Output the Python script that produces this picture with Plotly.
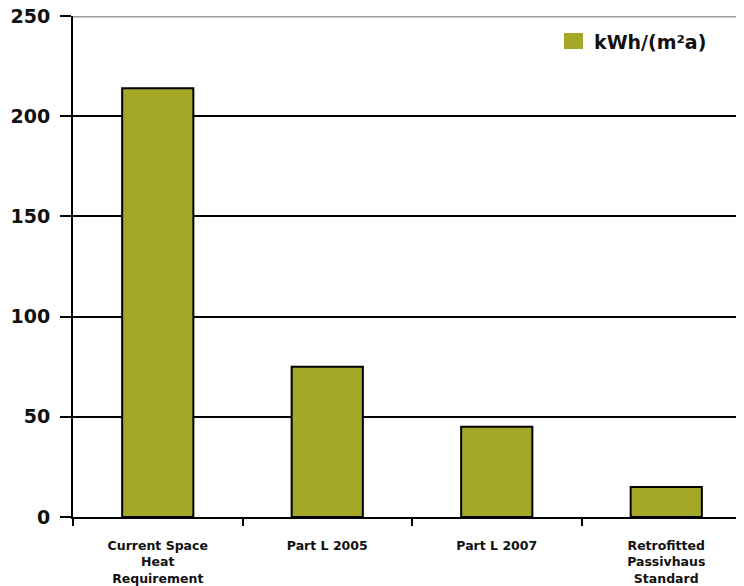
import plotly.graph_objects as go

categories = ["Current Space<br>Heat<br>Requirement", "Part L 2005", "Part L 2007", "Retrofitted<br>Passivhaus<br>Standard"]
values = [214, 75, 45, 15]
series_name = "kWh/(m²a)"
y_ticks = [0, 50, 100, 150, 200, 250]

BAR = "#A5A826"
FONT = "DejaVu Sans"

x = list(range(len(categories)))

# plot area in screenshot pixels: left 73, right 751, top 16, bottom 517
PW, PH = 678, 501
def px(sx):
    return (sx - 73) / PW
def py(sy):
    return (517 - sy) / PH

fig = go.Figure()
fig.add_trace(go.Bar(
    x=x, y=values, name=series_name, width=0.42,
    marker=dict(color=BAR, line=dict(color="black", width=2)),
    showlegend=False,
))

fig.update_layout(
    width=744, height=586,
    margin=dict(l=65, r=1, t=8, b=77),
    paper_bgcolor="white", plot_bgcolor="white",
    font=dict(family=FONT, color="black"),
    xaxis=dict(
        range=[-0.5, 3.5], automargin=False,
        tickvals=x, ticktext=categories, ticks="",
        tickfont=dict(family=FONT, size=12.5, color="#111", weight="bold"),
        showgrid=False, showline=True, linecolor="black", linewidth=2,
        zeroline=False, ticklabeloverflow="allow",
        minor=dict(tickvals=[-0.5, 0.5, 1.5, 2.5], ticks="outside", ticklen=7,
                   tickwidth=2, tickcolor="black", showgrid=False),
        ticklabelstandoff=16,
    ),
    yaxis=dict(
        range=[0, 250], tickvals=y_ticks, automargin=False,
        ticks="outside", ticklen=11, tickwidth=2, tickcolor="black",
        tickfont=dict(family=FONT, size=19, color="#111", weight="bold"),
        showgrid=True, gridcolor="black", gridwidth=2,
        showline=True, linecolor="black", linewidth=2, zeroline=False,
        ticklabelstandoff=6, ticklabeloverflow="allow",
    ),
    shapes=[
        dict(type="line", xref="paper", yref="y", x0=0, x1=1, y0=250, y1=250,
             line=dict(color="#999999", width=3), layer="above"),
        dict(type="rect", xref="paper", yref="paper",
             x0=px(564), x1=px(583), y0=py(49), y1=py(33),
             fillcolor=BAR, line=dict(width=0)),
    ],
    annotations=[
        dict(text=series_name, xref="paper", yref="paper",
             x=px(592), y=py(42), xanchor="left", yanchor="middle",
             showarrow=False, font=dict(family=FONT, size=19, color="#111", weight="bold")),
    ],
)

fig.write_html("out.html")
